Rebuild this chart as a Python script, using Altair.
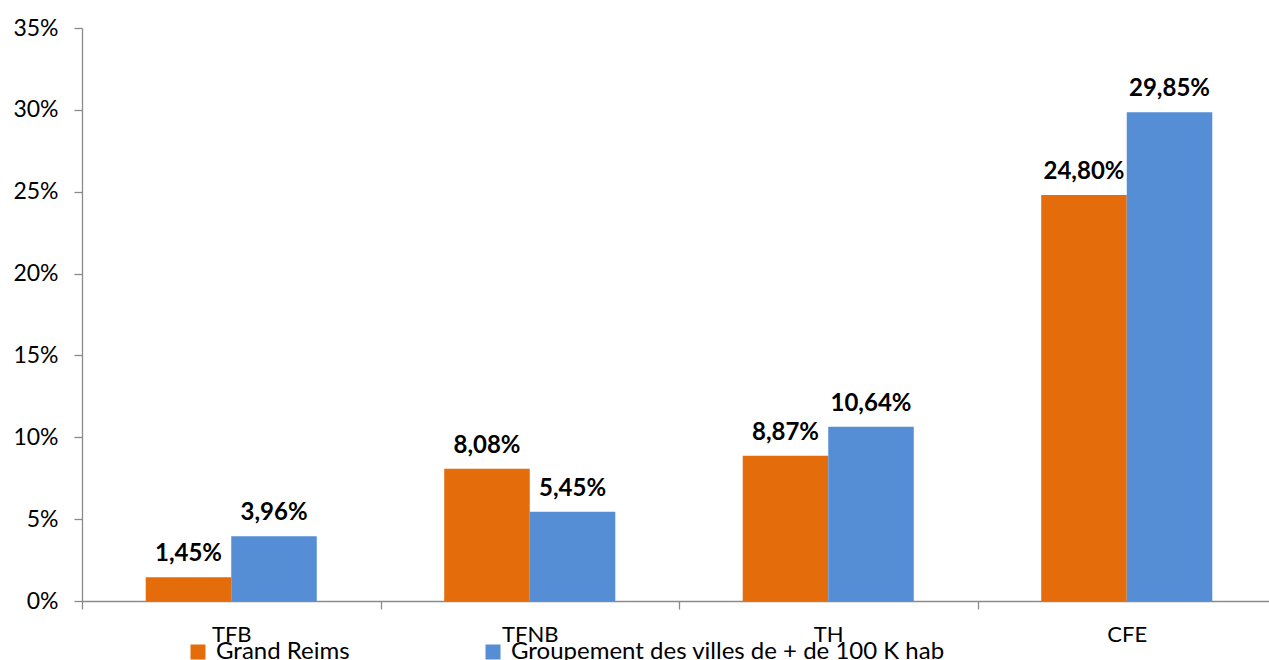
import altair as alt
import pandas as pd

# Tax categories and rates (in %) for the two series
categories = ["TFB", "TFNB", "TH", "CFE"]
series_names = ["Grand Reims", "Groupement des villes de + de 100 K hab"]
grand_reims = [1.45, 8.08, 8.87, 24.80]
groupement = [3.96, 5.45, 10.64, 29.85]
y_ticks = [0, 5, 10, 15, 20, 25, 30, 35]

rows = []
for cat, a, b in zip(categories, grand_reims, groupement):
    for name, v in ((series_names[0], a), (series_names[1], b)):
        rows.append({
            "cat": cat,
            "serie": name,
            "val": v,
            "lbl": f"{v:.2f}".replace(".", ",") + "%",
        })
df = pd.DataFrame(rows)

FONT = "Lato"
AXIS_GREY = "#8a8a8a"
colors = ["#E46C0A", "#558ED5"]

# Category bands fill the whole step so ticks sit on category boundaries;
# the bar pair is narrowed through the offset scale's outer padding.
# The last band runs slightly past the right edge of the view.
x = alt.X(
    "cat:N",
    sort=categories,
    title=None,
    scale=alt.Scale(paddingInner=0, paddingOuter=0, range=[0, 1194]),
    axis=alt.Axis(
        labelAngle=0,
        labelFont=FONT,
        labelFontSize=22,
        labelColor="#000000",
        labelPadding=15,
        tickBand="extent",
        tickSize=8,
        tickColor=AXIS_GREY,
        domainColor=AXIS_GREY,
        domainWidth=1.3,
        tickWidth=1.3,
        grid=False,
    ),
)
xoff = alt.XOffset(
    "serie:N",
    sort=series_names,
    scale=alt.Scale(paddingInner=0, paddingOuter=0.745),
)

base = alt.Chart(df).encode(x=x, xOffset=xoff)

bars = base.mark_bar().encode(
    y=alt.Y(
        "val:Q",
        title=None,
        scale=alt.Scale(domain=[0, 35], nice=False),
        axis=alt.Axis(
            values=y_ticks,
            labelExpr="datum.value + '%'",
            labelFont=FONT,
            labelFontSize=23,
            labelColor="#000000",
            labelPadding=16,
            tickSize=8,
            tickColor=AXIS_GREY,
            domainColor=AXIS_GREY,
            domainWidth=1.3,
            tickWidth=1.3,
            grid=False,
        ),
    ),
    color=alt.Color(
        "serie:N",
        sort=series_names,
        scale=alt.Scale(domain=series_names, range=colors),
        legend=alt.Legend(
            title=None,
            orient="none",
            direction="horizontal",
            legendX=104,
            legendY=612,
            symbolType="square",
            symbolSize=225,
            symbolStrokeWidth=0,
            labelFont=FONT,
            labelFontSize=24,
            labelColor="#000000",
            labelOffset=6,
            labelLimit=600,
            columnPadding=131,
            padding=0,
        ),
    ),
)

labels = base.mark_text(
    font=FONT,
    fontSize=24,
    fontWeight="bold",
    baseline="bottom",
    dy=-11,
    color="#000000",
).encode(y="val:Q", text="lbl:N")

chart = (
    alt.layer(bars, labels)
    .properties(
        width=1187,
        height=573,
        padding={"left": 82, "top": 28, "right": 0, "bottom": 59},
        autosize=alt.AutoSizeParams(type="none"),
        background="#ffffff",
    )
    .configure_view(stroke=None)
)

chart.save("out.html", embed_options={"renderer": "svg", "actions": False})
